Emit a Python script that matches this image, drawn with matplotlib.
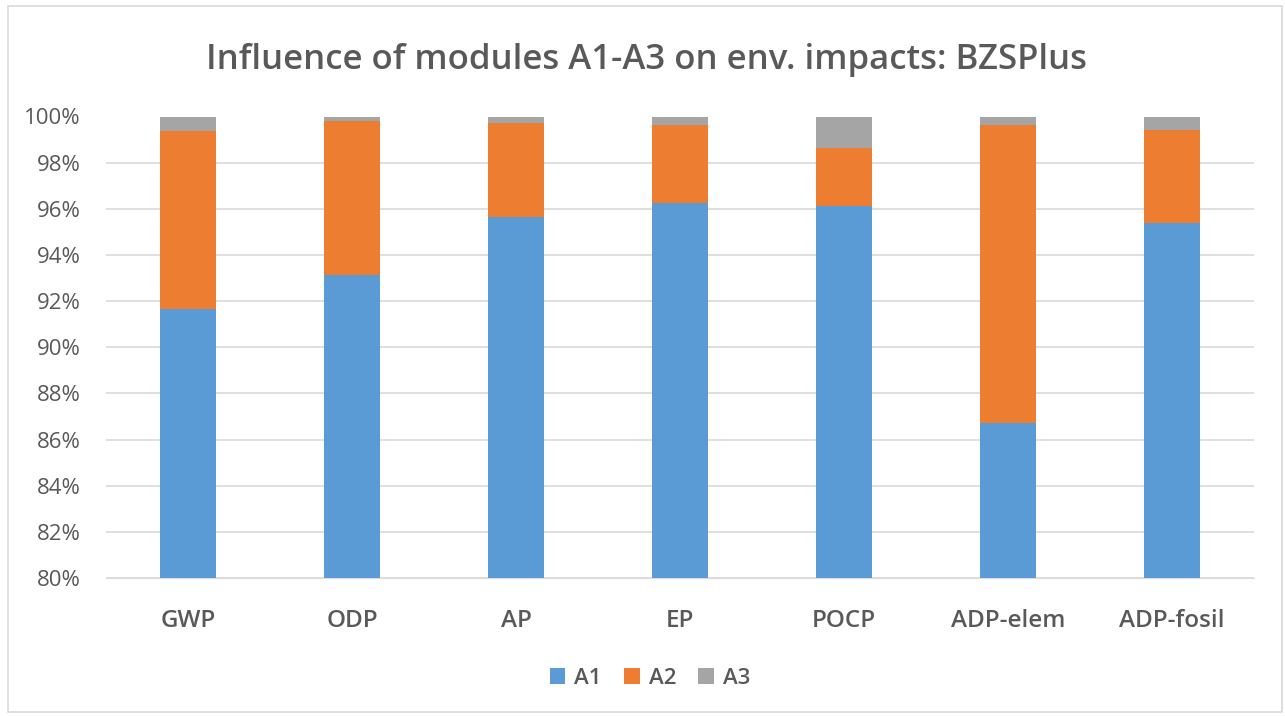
import matplotlib
matplotlib.use("Agg")
import matplotlib.pyplot as plt
from matplotlib.ticker import FuncFormatter
from matplotlib.patches import Rectangle
import numpy as np

categories = ["GWP", "ODP", "AP", "EP", "POCP", "ADP-elem", "ADP-fosil"]
a1 = [91.65, 93.14, 95.64, 96.24, 96.10, 86.72, 95.40]
a2 = [7.70, 6.66, 4.06, 3.39, 2.52, 12.91, 4.02]
a3 = [0.65, 0.20, 0.30, 0.37, 1.38, 0.37, 0.58]
series_names = ["A1", "A2", "A3"]
colors = ["#5B9BD5", "#ED7D31", "#A5A5A5"]
yticks = list(range(80, 101, 2))

plt.rcParams['font.family'] = ['Open Sans', 'DejaVu Sans']
fig = plt.figure(figsize=(12.85, 7.16), dpi=100)
fig.patches.append(Rectangle((8/1285, 4/716), 1274/1285, 706/716, transform=fig.transFigure,
                             fill=False, edgecolor="#D9D9D9", linewidth=1.2))
ax = fig.add_axes([106/1285, 1-578/716, 1148/1285, (578-116.5)/716])

x = np.arange(len(categories))
w = 0.34
bottom = np.zeros(len(categories))
for vals, name, c in zip([a1, a2, a3], series_names, colors):
    ax.bar(x, vals, w, bottom=bottom, color=c, label=name, zorder=3)
    bottom += np.array(vals)

ax.set_ylim(80, 100)
ax.set_xlim(-0.5, len(categories) - 0.5)
ax.set_yticks(yticks)
ax.yaxis.set_major_formatter(FuncFormatter(lambda v, p: f"{v:.0f}%"))
ax.set_xticks(x)
ax.set_xticklabels(categories, fontsize=17.5, color="#595959", fontweight="semibold")
ax.tick_params(axis='y', labelsize=16, labelcolor="#595959", length=0, pad=18)
ax.tick_params(axis='x', length=0, pad=22)
ax.grid(axis='y', color="#D9D9D9", linewidth=1.2, zorder=0)
for s in ax.spines.values():
    s.set_visible(False)
ax.spines['bottom'].set_visible(True)
ax.spines['bottom'].set_color("#D9D9D9")

fig.text(646/1285, 1-60/716, "Influence of modules A1-A3 on env. impacts: BZSPlus",
         ha='center', va='center', fontsize=25, color="#595959", fontweight="semibold")

leg = fig.legend(loc='center', bbox_to_anchor=(650/1285, 1-678/716), ncol=3, frameon=False,
                 fontsize=16, handlelength=0.7, handleheight=0.7, columnspacing=1.0, handletextpad=0.4)
for t in leg.get_texts():
    t.set_color("#595959")
    t.set_fontweight("semibold")

fig.savefig("out.png", dpi=100)
